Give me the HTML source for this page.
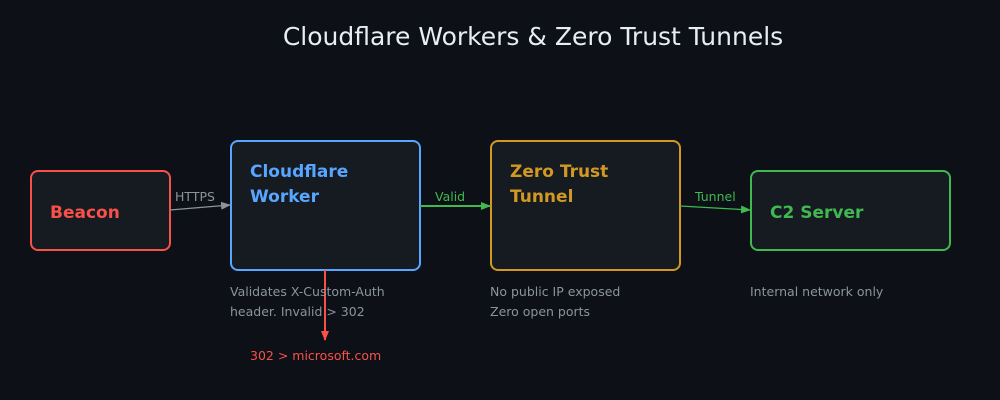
<!DOCTYPE html>
<html><head><meta charset="utf-8"><style>
html,body{margin:0;padding:0;background:#0d1017;}
svg{display:block;font-family:"DejaVu Sans","Liberation Sans",sans-serif;}
</style></head><body>
<svg width="1000" height="400" viewBox="0 0 1000 400" xmlns="http://www.w3.org/2000/svg">
<rect width="1000" height="400" fill="#0d1017"/>
<defs>
<marker id="ag" markerWidth="10" markerHeight="8" refX="9" refY="4" orient="auto" markerUnits="userSpaceOnUse"><path d="M0,0 L10,4 L0,8 z" fill="#8b949e"/></marker>
<marker id="agr" markerWidth="10" markerHeight="8" refX="9" refY="4" orient="auto" markerUnits="userSpaceOnUse"><path d="M0,0 L10,4 L0,8 z" fill="#3fb950"/></marker>
<marker id="ar" markerWidth="10" markerHeight="8" refX="9" refY="4" orient="auto" markerUnits="userSpaceOnUse"><path d="M0,0 L10,4 L0,8 z" fill="#f85149"/></marker>
</defs>
<text x="533" y="45" text-anchor="middle" font-size="25" fill="#e6edf3">Cloudflare Workers &amp; Zero Trust Tunnels</text>

<rect x="31" y="171" width="139" height="79" rx="7" fill="#161b22" stroke="#f85149" stroke-width="2"/>
<text x="50" y="218" font-size="17" font-weight="bold" fill="#f85149">Beacon</text>

<rect x="231" y="141" width="189" height="129" rx="7" fill="#161b22" stroke="#58a6ff" stroke-width="2"/>
<text x="250" y="177" font-size="17" font-weight="bold" fill="#58a6ff">Cloudflare</text>
<text x="250" y="202" font-size="17" font-weight="bold" fill="#58a6ff">Worker</text>

<rect x="491" y="141" width="189" height="129" rx="7" fill="#161b22" stroke="#d29922" stroke-width="2"/>
<text x="510" y="177" font-size="17" font-weight="bold" fill="#d29922">Zero Trust</text>
<text x="510" y="202" font-size="17" font-weight="bold" fill="#d29922">Tunnel</text>

<rect x="751" y="171" width="199" height="79" rx="7" fill="#161b22" stroke="#3fb950" stroke-width="2"/>
<text x="770" y="218" font-size="17" font-weight="bold" fill="#3fb950">C2 Server</text>

<path d="M170,210 L230,205" stroke="#8b949e" stroke-width="1.2" fill="none" marker-end="url(#ag)"/>
<text x="175" y="201" font-size="12.5" fill="#8b949e">HTTPS</text>
<path d="M420,206 L490,206" stroke="#3fb950" stroke-width="2" fill="none" marker-end="url(#agr)"/>
<text x="435" y="201" font-size="12.5" fill="#3fb950">Valid</text>
<path d="M680,206 L750,210" stroke="#3fb950" stroke-width="1.2" fill="none" marker-end="url(#agr)"/>
<text x="695" y="201" font-size="12.5" fill="#3fb950">Tunnel</text>
<path d="M325,270 L325,340" stroke="#f85149" stroke-width="2" fill="none" marker-end="url(#ar)"/>

<g font-size="12.5" fill="#8b949e">
<text x="230" y="296">Validates X-Custom-Auth</text>
<text x="230" y="316">header. Invalid &gt; 302</text>
<text x="490" y="296">No public IP exposed</text>
<text x="490" y="316">Zero open ports</text>
<text x="750" y="296">Internal network only</text>
</g>
<text x="250" y="360" font-size="12.5" fill="#f85149">302 &gt; microsoft.com</text>
</svg>
</body></html>
